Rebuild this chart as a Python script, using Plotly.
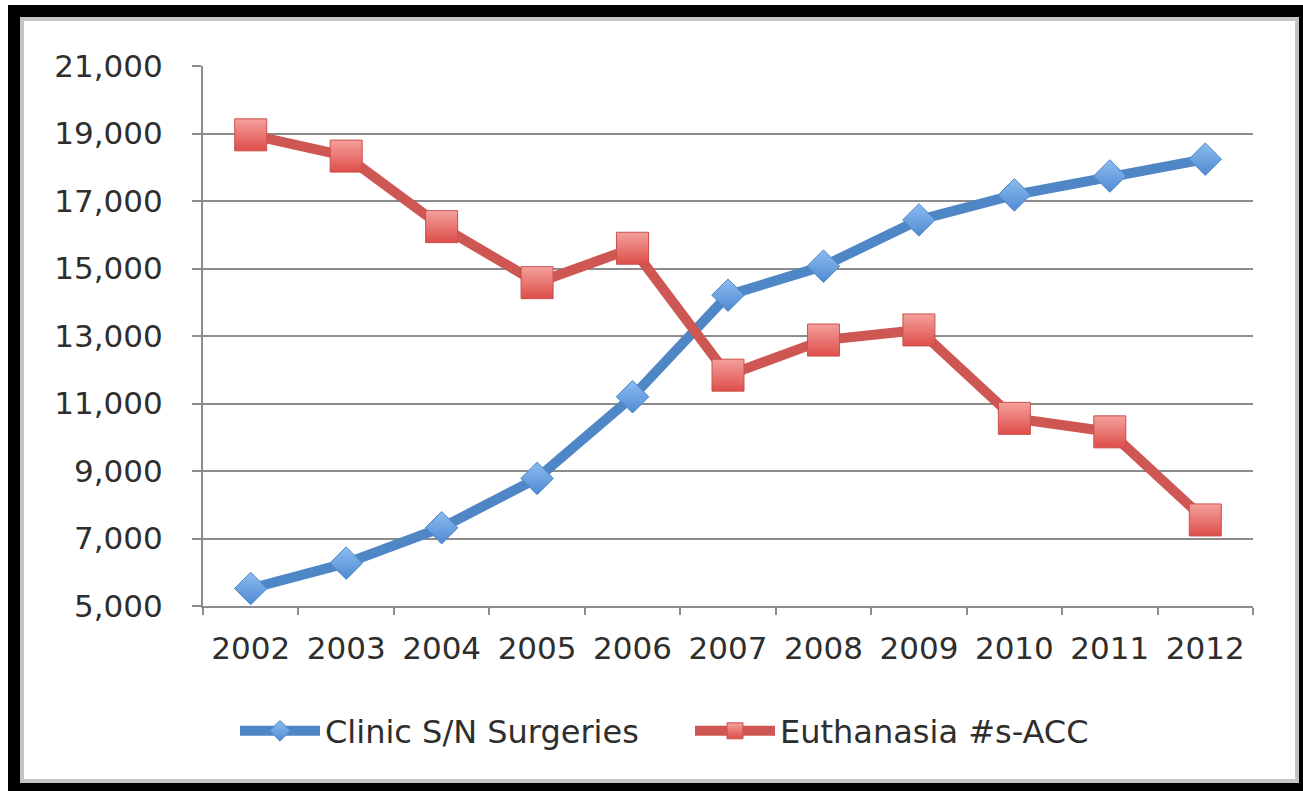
import plotly.graph_objects as go

years = ["2002", "2003", "2004", "2005", "2006", "2007", "2008", "2009", "2010", "2011", "2012"]
clinic_sn_surgeries = [5520, 6270, 7320, 8780, 11200, 14210, 15070, 16440, 17180, 17740, 18240]
euthanasia_acc = [18960, 18330, 16240, 14580, 15600, 11840, 12880, 13180, 10560, 10160, 7550]
y_ticks = [5000, 7000, 9000, 11000, 13000, 15000, 17000, 19000, 21000]
y_tick_labels = ["5,000", "7,000", "9,000", "11,000", "13,000", "15,000", "17,000", "19,000", "21,000"]

W, H = 1303, 791
L, R, T, B = 203, 50, 66, 185
PW, PH = W - L - R, H - T - B

def px(x):
    return (x - L) / PW

def py(y):
    return (H - B - y) / PH

FONT = "DejaVu Sans"
TXT = "#2e2e2e"
GRID = "#8c8c8c"

fig = go.Figure()
fig.add_trace(go.Scatter(
    x=years, y=clinic_sn_surgeries, name="Clinic S/N Surgeries",
    mode="lines+markers",
    line=dict(color="#4F86C6", width=10),
    marker=dict(symbol="diamond", size=25, color="#8DBDF0",
                gradient=dict(type="vertical", color="#4F8AD2"),
                line=dict(color="#4F86C6", width=1)),
))
fig.add_trace(go.Scatter(
    x=years, y=euthanasia_acc, name="Euthanasia #s-ACC",
    mode="lines+markers",
    line=dict(color="#CF5753", width=10),
    marker=dict(symbol="square", size=32, color="#F4A09C",
                gradient=dict(type="vertical", color="#DE4E4A"),
                line=dict(color="#C9504C", width=1)),
))

shapes = [
    dict(type="rect", xref="paper", yref="paper", x0=px(8), x1=px(W + 5), y0=py(5), y1=py(H + 5),
         fillcolor="black", line=dict(width=0), layer="below"),
    dict(type="rect", xref="paper", yref="paper", x0=px(20), x1=px(1299), y0=py(17), y1=py(783),
         fillcolor="#c4c4c4", line=dict(width=0), layer="below"),
    dict(type="rect", xref="paper", yref="paper", x0=px(24), x1=px(1295), y0=py(21), y1=py(779),
         fillcolor="white", line=dict(width=0), layer="below"),
]

fig.update_layout(
    width=W, height=H,
    margin=dict(l=L, r=R, t=T, b=B, autoexpand=False),
    paper_bgcolor="white", plot_bgcolor="white",
    font=dict(family=FONT, color=TXT, size=31),
    shapes=shapes,
    showlegend=True,
    legend=dict(orientation="h", x=px(235), xanchor="left", y=py(731), yanchor="middle",
                font=dict(family=FONT, size=32, color=TXT), bgcolor="rgba(0,0,0,0)",
                itemwidth=80, entrywidth=360),
    xaxis=dict(type="category", range=[-0.5, 10.5], tickson="boundaries",
               ticks="outside", ticklen=7, tickwidth=2, tickcolor=GRID,
               showline=True, linecolor=GRID, linewidth=2, showgrid=False,
               ticklabelstandoff=14, tickfont=dict(family=FONT, size=31, color=TXT),
               fixedrange=True),
    yaxis=dict(range=[5000, 21000], tickvals=y_ticks, ticktext=y_tick_labels,
               ticks="outside", ticklen=9, tickwidth=2, tickcolor=GRID,
               showline=True, linecolor=GRID, linewidth=2,
               showgrid=True, gridcolor=GRID, gridwidth=2, zeroline=False,
               ticklabelstandoff=23, tickfont=dict(family=FONT, size=31, color=TXT),
               fixedrange=True),
)

fig.write_html("out.html", config={"displayModeBar": False},
               post_script="document.body.style.margin='0';document.body.style.overflow='hidden';")
